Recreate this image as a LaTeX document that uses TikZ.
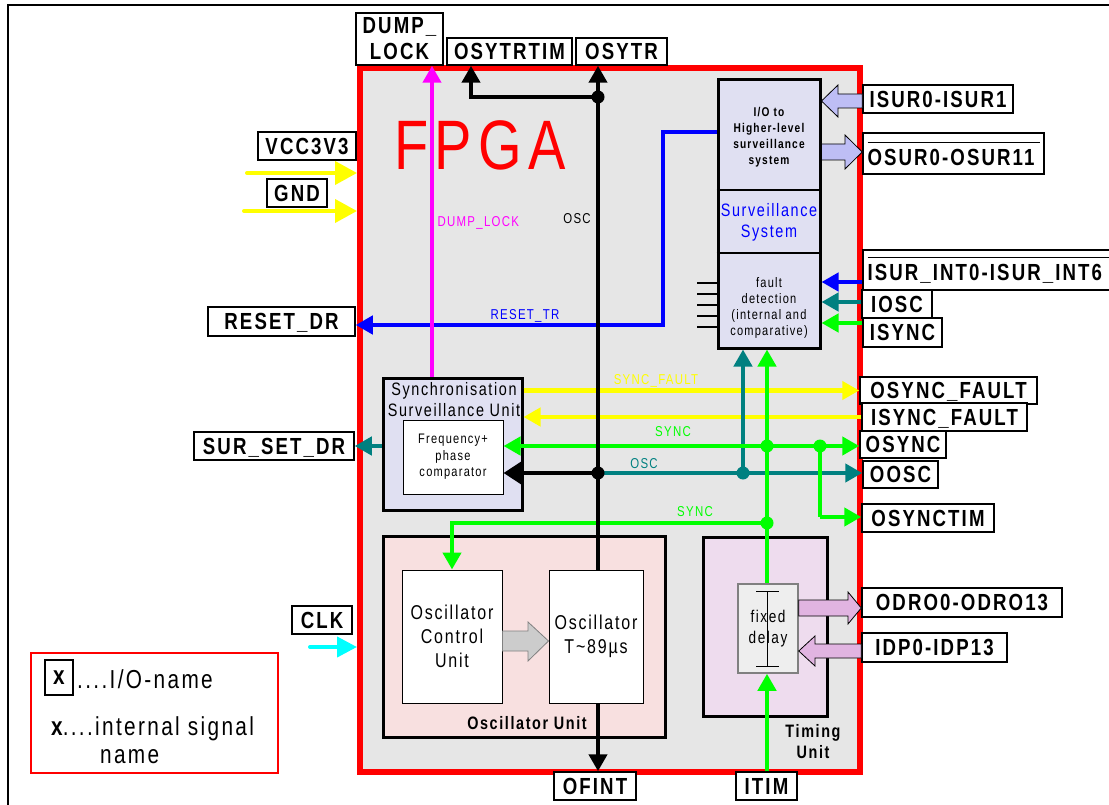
\documentclass[tikz,border=0pt]{standalone}
\usepackage{fontspec}
\setmainfont{Liberation Sans}
\newfontfamily\nar[FakeStretch=0.8,LetterSpace=9]{Liberation Sans}
\usetikzlibrary{arrows.meta}
\definecolor{fpgabg}{RGB}{230,230,230}
\definecolor{bluebg}{RGB}{224,224,242}
\definecolor{pinkbg}{RGB}{248,224,224}
\definecolor{violbg}{RGB}{238,220,238}
\definecolor{tealc}{RGB}{0,128,128}
\definecolor{grn}{RGB}{0,255,0}
\definecolor{yel}{RGB}{255,255,0}
\definecolor{mag}{RGB}{255,0,255}
\definecolor{cyn}{RGB}{0,255,255}
\definecolor{blu}{RGB}{0,0,255}
\definecolor{fatblue}{RGB}{190,190,245}
\definecolor{fatviol}{RGB}{225,180,225}
\definecolor{delaybg}{RGB}{238,238,238}
\begin{document}
\begin{tikzpicture}[x=1pt,y=-1pt,
  lbl/.style={draw, line width=1.5pt, fill=white, inner sep=0pt, font=\nar\bfseries\fontsize{23.3}{26}\selectfont, text height=16.5pt, text depth=0pt},
  lblm/.style={draw, line width=1.5pt, fill=white, inner sep=0pt, font=\nar\bfseries\fontsize{23.3}{26}\selectfont, align=center},
  lblo/.style={draw, line width=1.5pt, fill=white, inner sep=0pt, font=\nar\bfseries\fontsize{23.3}{26}\selectfont, align=left},
  blk/.style={draw, line width=3pt, inner sep=0pt},
  wbox/.style={draw, line width=1pt, fill=white, inner sep=0pt, align=center},
  sig/.style={line width=4.5pt},
  arr/.style={->, >={Triangle[length=17pt,width=18pt]}},
  barr/.style={<->, >={Triangle[length=17pt,width=18pt]}},
  jdot/.style={circle, inner sep=0pt, minimum size=13pt},
  sml/.style={font=\nar\fontsize{14.3}{16}\selectfont},
  fat/.style={draw, line width=0.8pt},
]
\useasboundingbox (0,0) rectangle (1109,805);
% page frame
\draw[line width=2pt] (8,805) -- (8,5) -- (1109,5);
% FPGA
\node[draw=red, line width=6pt, fill=fpgabg, minimum width=500pt, minimum height=704pt, inner sep=0pt] (fpga) at (610,420) {};
\node[font=\nar\fontsize{70}{74}\selectfont, text=red] (fpgat) at (480,145) {FPGA};

% surveillance system
\node[blk, fill=bluebg, minimum width=102pt, minimum height=268pt] (surv) at (769,214) {};
\draw[line width=1.5pt] (surv.west |- 0,190) -- (surv.east |- 0,190);
\draw[line width=1.5pt] (surv.west |- 0,253) -- (surv.east |- 0,253);
\node[font=\nar\bfseries\fontsize{12.7}{16}\selectfont, align=center] (survio) at (769,137) {I/O to\\Higher-level\\surveillance\\system};
\node[font=\nar\fontsize{18}{21}\selectfont, text=blu, align=center] (survss) at (769,222) {Surveillance\\System};
\node[font=\nar\fontsize{13.8}{16}\selectfont, align=center] (survfd) at (769,308) {fault\\detection\\(internal and\\comparative)};
\foreach \ty in {283,294,305,316,327} \draw[line width=1.5pt] (697,\ty) -- (surv.west |- 0,\ty);

% synchronisation surveillance unit
\node[blk, fill=bluebg, minimum width=139pt, minimum height=132pt] (sync) at (452.5,444) {};
\node[font=\nar\fontsize{18}{21}\selectfont, align=center] (synct) at (454,400) {Synchronisation\\Surveillance Unit};
\node[wbox, minimum width=100pt, minimum height=74pt, font=\nar\fontsize{13.8}{16.5}\selectfont] (comp) at (453,457) {Frequency+\\phase\\comparator};

% oscillator unit
\node[blk, fill=pinkbg, minimum width=282pt, minimum height=201pt] (oscu) at (524,636.5) {};
\node[wbox, minimum width=100pt, minimum height=133pt, font=\nar\fontsize{20}{24}\selectfont] (ocu) at (452,636.5) {Oscillator\\Control\\Unit};
\node[wbox, minimum width=94pt, minimum height=133pt, font=\nar\fontsize{20}{24}\selectfont] (oscb) at (596,636.5) {Oscillator\\T\textasciitilde 89µs};
\node[font=\nar\bfseries\fontsize{18}{21}\selectfont] (oscul) at (527,723) {Oscillator Unit};
\draw[fat, draw=gray, fill=gray!40] (ocu.east |- 0,631) -- (528,631) -- (528,622) -- (oscb.west |- 0,641) -- (528,661) -- (528,651) -- (ocu.east |- 0,651) -- cycle;

% timing unit
\node[blk, fill=violbg, minimum width=124pt, minimum height=179pt] (tim) at (765,626.5) {};
\node[draw=gray, line width=1.5pt, fill=delaybg, minimum width=60pt, minimum height=89pt, inner sep=0pt, align=center, font=\nar\fontsize{17}{21}\selectfont] (delay) at (768,628.5) {fixed\\delay};
\draw[line width=1pt] (756,591) -- (779,591) (767.5,591) -- (767.5,666) (756,666) -- (779,666);
\node[font=\nar\bfseries\fontsize{18}{21}\selectfont, align=center] (timl) at (813,742) {Timing\\Unit};

% legend
\node[draw=red, line width=2pt, minimum width=247pt, minimum height=120pt, inner sep=0pt] (legend) at (154.5,713) {};
\node[draw, line width=1.5pt, minimum width=28pt, minimum height=35pt, inner sep=0pt, font=\nar\bfseries\fontsize{26}{29}\selectfont] (legx) at (59,677.5) {x};
\node[anchor=west, inner sep=0pt, font=\nar\fontsize{26}{29}\selectfont] (legio) at (77,679) {....I/O-name};
\node[anchor=west, inner sep=0pt, font=\nar\fontsize{26}{29}\selectfont] (legint) at (51,729) {\textbf{x}....internal signal};
\node[anchor=west, inner sep=0pt, font=\nar\fontsize{26}{29}\selectfont] (legname) at (100,757) {name};

% I/O labels
\node[lblm, minimum width=87pt, minimum height=52pt] (dump) at (399.5,39) {DUMP\_\\LOCK};
\node[lbl, minimum width=125pt, minimum height=27pt] (osytrtim) at (509.5,51.5) {OSYTRTIM};
\node[lbl, minimum width=91pt, minimum height=27pt] (osytr) at (621.5,51.5) {OSYTR};
\node[lbl, minimum width=98pt, minimum height=28pt] (vcc) at (307,146) {VCC3V3};
\node[lbl, minimum width=60pt, minimum height=28pt] (gnd) at (297,193) {GND};
\node[lbl, minimum width=147pt, minimum height=29pt] (resetdr) at (281.5,321.5) {RESET\_DR};
\node[lbl, minimum width=160pt, minimum height=28pt] (surset) at (274,446) {SUR\_SET\_DR};
\node[lbl, minimum width=60pt, minimum height=28pt] (clk) at (322,620) {CLK};
\node[lbl, minimum width=150pt, minimum height=28pt] (isur) at (938,99) {ISUR0-ISUR1};
\node[lblo, minimum width=181pt, minimum height=41pt] (osur) at (953.5,153.5) {\rule{172pt}{1.5pt}\\[-4pt]OSUR0-OSUR11};
\node[lblo, minimum width=252pt, minimum height=40pt] (isurint) at (989,270) {\rule{243pt}{1.5pt}\\[-4pt]ISUR\_INT0-ISUR\_INT6};
\node[lbl, minimum width=70pt, minimum height=28pt] (iosc) at (897,304) {IOSC};
\node[lbl, minimum width=79pt, minimum height=29pt] (isync) at (902.5,332.5) {ISYNC};
\node[lbl, minimum width=177pt, minimum height=27pt] (osf) at (948.5,390.5) {OSYNC\_FAULT};
\node[lbl, minimum width=165pt, minimum height=28pt] (isf) at (944.5,417) {ISYNC\_FAULT};
\node[lbl, minimum width=86pt, minimum height=27pt] (osync) at (903,444.5) {OSYNC};
\node[lbl, minimum width=75pt, minimum height=27pt] (oosc) at (900.5,474.5) {OOSC};
\node[lbl, minimum width=132pt, minimum height=28pt] (osynctim) at (928,518) {OSYNCTIM};
\node[lbl, minimum width=200pt, minimum height=29pt] (odro) at (962,602.5) {ODRO0-ODRO13};
\node[lbl, minimum width=145pt, minimum height=29pt] (idp) at (934.5,647.5) {IDP0-IDP13};
\node[lbl, minimum width=82pt, minimum height=28pt] (ofint) at (595,786) {OFINT};
\node[lbl, minimum width=61pt, minimum height=28pt] (itim) at (766.5,786) {ITIM};

% coordinates
\coordinate (bx) at (598,0);
\coordinate (j1) at (598,97);
\coordinate (j2) at (598,473);
\coordinate (j3) at (743,473);
\coordinate (g1) at (767,446);
\coordinate (g2) at (820,446);
\coordinate (g3) at (767,523);
\coordinate (g4) at (820,517);
\coordinate (g5) at (452,523);
\coordinate (mx) at (432,0);
\coordinate (tx) at (471,0);
\coordinate (b1) at (663,132);
\coordinate (b2) at (663,325);
\coordinate (vccin) at (247,173);
\coordinate (gndin) at (244,211);
\coordinate (clkin) at (310,647);

% power and clock
\draw[line width=4pt, yel, line cap=round, -{Triangle[length=22pt,width=23pt]}] (vccin) -- (fpga.west |- vccin);
\draw[line width=4pt, yel, line cap=round, -{Triangle[length=22pt,width=23pt]}] (gndin) -- (fpga.west |- gndin);
\draw[line width=4pt, cyn, line cap=round, -{Triangle[length=20pt,width=20pt]}] (clkin) -- (fpga.west |- clkin);

% yellow
\draw[sig, yel, arr] (sync.east |- osf) -- (osf.west);
\draw[sig, yel, arr] (isf.west) -- (sync.east |- isf);

% blue
\draw[sig, blu, arr] (surv.west |- b1) -- (b1) -- (b2) -- (resetdr.east |- b2);
\draw[sig, blu, arr] (isurint.west |- 0,282) -- (surv.east |- 0,282);

% magenta
\draw[sig, mag, arr] (sync.north -| mx) -- (dump.south -| mx);

% teal
\draw[sig, tealc, arr] (j2) -- (oosc.west |- j2);
\draw[sig, tealc, arr] (j3) -- (surv.south -| j3);
\draw[sig, tealc, arr] (sync.west |- surset) -- (surset.east);
\draw[sig, tealc, arr] (iosc.west |- 0,302) -- (surv.east |- 0,302);
\node[jdot, fill=tealc] (dj3) at (j3) {};

% green
\draw[sig, grn, barr] (comp.east |- g1) -- (osync.west |- g1);
\draw[sig, grn, arr] (g3) -- (g5) -- (ocu.north -| g5);
\draw[sig, grn, arr] (delay.north -| g1) -- (surv.south -| g1);
\draw[sig, grn] (g2) -- (g4);
\draw[sig, grn, arr] (g4) -- (osynctim.west |- g4);
\draw[sig, grn, arr] (itim.north -| g1) -- (delay.south -| g1);
\draw[sig, grn, arr] (isync.west |- 0,323) -- (surv.east |- 0,323);
\node[jdot, fill=grn] (dg1) at (g1) {};
\node[jdot, fill=grn] (dg2) at (g2) {};
\node[jdot, fill=grn] (dg3) at (g3) {};

% black
\draw[sig, arr] (oscb.north -| bx) -- (osytr.south -| bx);
\draw[sig, arr] (j1) -- (j1 -| tx) -- (osytrtim.south -| tx);
\draw[sig, ->, >={Triangle[length=18pt,width=22pt]}] (j2) -- (comp.east |- j2);
\draw[sig, arr] (oscb.south -| bx) -- (ofint.north -| bx);
\node[jdot, fill=black] (dj1) at (j1) {};
\node[jdot, fill=black] (dj2) at (j2) {};

% fat arrows
\draw[fat, fill=fatblue] (isur.west |- 0,94) -- (838,94) -- (838,85) -- (surv.east |- 0,101) -- (838,117) -- (838,108) -- (isur.west |- 0,108) -- cycle;
\draw[fat, fill=fatblue] (surv.east |- 0,144) -- (845,144) -- (845,135) -- (osur.west |- 0,152) -- (845,169) -- (845,160) -- (surv.east |- 0,160) -- cycle;
\draw[fat, fill=fatviol] (delay.east |- 0,600) -- (848,600) -- (848,592) -- (odro.west |- 0,608) -- (848,624) -- (848,616) -- (delay.east |- 0,616) -- cycle;
\draw[fat, fill=fatviol] (idp.west |- 0,644) -- (815,644) -- (815,636) -- (delay.east |- 0,651) -- (815,666) -- (815,658) -- (idp.west |- 0,658) -- cycle;

% internal signal names
\node[sml, text=mag, anchor=west] (dl) at (434,223) {DUMP\_LOCK};
\node[sml] (oscl1) at (577,219) {OSC};
\node[sml, text=blu] (rtl) at (525,316) {RESET\_TR};
\node[sml, text=yel] (sfl) at (656,381) {SYNC\_FAULT};
\node[sml, text=grn] (syl1) at (673,432) {SYNC};
\node[sml, text=tealc] (oscl2) at (644,464) {OSC};
\node[sml, text=grn] (syl2) at (695,512) {SYNC};
\end{tikzpicture}
\end{document}
